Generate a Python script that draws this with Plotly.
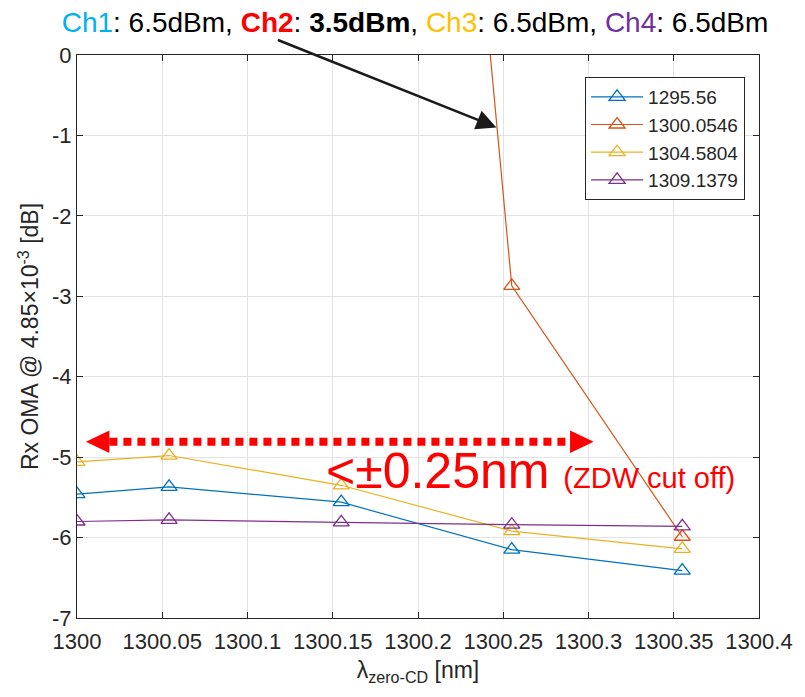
import plotly.graph_objects as go

# ---- data ----
x_zcd = [1300.0, 1300.054, 1300.155, 1300.255, 1300.355]
series_names = ["1295.56", "1300.0546", "1304.5804", "1309.1379"]
ch1_oma = [-5.46, -5.37, -5.56, -6.15, -6.41]
ch2_oma = [None, None, 19.9, -2.87, -5.99]
ch3_oma = [-5.06, -4.98, -5.35, -5.92, -6.14]
ch4_oma = [-5.80, -5.78, -5.81, -5.84, -5.86]
series_colors = ["#0072BD", "#D95319", "#EDB120", "#7E2F8E"]

x_tick_vals = [1300.0, 1300.05, 1300.1, 1300.15, 1300.2, 1300.25, 1300.3, 1300.35, 1300.4]
x_tick_text = ["1300", "1300.05", "1300.1", "1300.15", "1300.2", "1300.25", "1300.3", "1300.35", "1300.4"]
y_tick_vals = [0, -1, -2, -3, -4, -5, -6, -7]
y_tick_text = ["0", "-1", "-2", "-3", "-4", "-5", "-6", "-7"]

# annotation anchors (data units)
range_arrow_y = -4.81
range_arrow_x0 = 1300.0052
range_arrow_x1 = 1300.303
FONT = "Liberation Sans, Arial, Helvetica, sans-serif"
AX = "#262626"

fig = go.Figure()
for name, ys, col in zip(series_names, [ch1_oma, ch2_oma, ch3_oma, ch4_oma], series_colors):
    fig.add_trace(go.Scatter(
        x=x_zcd, y=ys, name=name, mode="lines+markers",
        line=dict(color=col, width=1.2),
        marker=dict(symbol="triangle-up-open", size=14, color=col, line=dict(width=1.3, color=col)),
    ))

# red dotted double arrow
head_len = 0.0138
head_half = 0.14
fig.add_shape(type="line", xref="x", yref="y",
              x0=range_arrow_x0 + head_len, x1=range_arrow_x1 - head_len,
              y0=range_arrow_y, y1=range_arrow_y,
              line=dict(color="#FF0000", width=8, dash="8px,6px"))
fig.add_shape(type="path", xref="x", yref="y", fillcolor="#FF0000", line=dict(width=0),
              path=f"M {range_arrow_x0 + head_len},{range_arrow_y + head_half} L {range_arrow_x0},{range_arrow_y} "
                   f"L {range_arrow_x0 + head_len},{range_arrow_y - head_half} Z")
fig.add_shape(type="path", xref="x", yref="y", fillcolor="#FF0000", line=dict(width=0),
              path=f"M {range_arrow_x1 - head_len},{range_arrow_y + head_half} L {range_arrow_x1},{range_arrow_y} "
                   f"L {range_arrow_x1 - head_len},{range_arrow_y - head_half} Z")

fig.add_annotation(x=1300.1447, y=-5.17, xref="x", yref="y", xanchor="left", yanchor="middle",
                   showarrow=False,
                   text="&lt;±0.25nm <span style='font-size:29px'>(ZDW cut off)</span>",
                   font=dict(family=FONT, size=50, color="#FF0000"))

# black arrow from title to Ch2 line
fig.add_annotation(x=1300.246, y=-0.9, xref="x", yref="y", text="", showarrow=True,
                   ax=-220, ay=-88, arrowhead=2, arrowsize=1.6, arrowwidth=2.5, arrowcolor="#1a1a1a")

title_text = ("<span style='color:#00B0F0'>Ch1</span>: 6.5dBm, "
              "<span style='color:#FF0000'><b>Ch2</b></span>: <b>3.5dBm</b>, "
              "<span style='color:#FFC000'>Ch3</span>: 6.5dBm, "
              "<span style='color:#7030A0'>Ch4</span>: 6.5dBm")

fig.update_layout(
    width=805, height=697, autosize=False,
    margin=dict(l=77, r=37, t=55, b=79),
    paper_bgcolor="white", plot_bgcolor="white",
    font=dict(family=FONT, color=AX),
    title=dict(text=title_text, x=415 / 805, xanchor="center", y=1 - 22 / 697, yanchor="middle",
               xref="container", yref="container", font=dict(family=FONT, size=28, color="#000000")),
    showlegend=True,
    legend=dict(x=0.745, y=0.961, xanchor="left", yanchor="top", bgcolor="white",
                bordercolor=AX, borderwidth=1, itemwidth=52, tracegroupgap=0,
                font=dict(family=FONT, size=19, color=AX)),
    xaxis=dict(range=[1300, 1300.4], tickvals=x_tick_vals, ticktext=x_tick_text,
               showgrid=True, gridcolor="#e3e3e3", gridwidth=1, zeroline=False,
               showline=True, linecolor=AX, linewidth=1, mirror="allticks",
               ticks="inside", ticklen=6, tickcolor=AX, ticklabelstandoff=4,
               tickfont=dict(family=FONT, size=22, color=AX),
               title=dict(text="λ<sub>zero-CD</sub> [nm]", font=dict(family=FONT, size=23, color=AX), standoff=8)),
    yaxis=dict(range=[-7, 0], tickvals=y_tick_vals, ticktext=y_tick_text,
               showgrid=True, gridcolor="#e3e3e3", gridwidth=1, zeroline=False,
               showline=True, linecolor=AX, linewidth=1, mirror="allticks",
               ticks="inside", ticklen=6, tickcolor=AX,
               tickfont=dict(family=FONT, size=22, color=AX),
               title=dict(text="Rx OMA @ 4.85×10<sup>-3</sup> [dB]", font=dict(family=FONT, size=23, color=AX), standoff=6)),
)

fig.write_html("out.html")
